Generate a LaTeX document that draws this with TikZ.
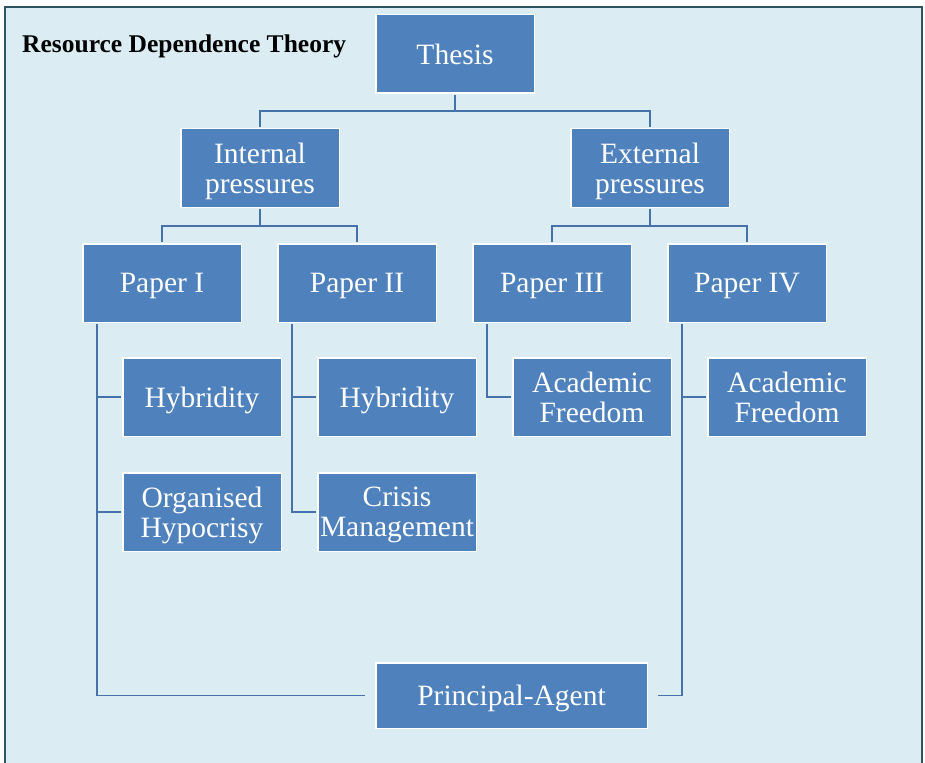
\documentclass[tikz,border=0pt]{standalone}
\usepackage{fontspec}
\setmainfont{Liberation Serif}
\usepackage{tikz}
\usepackage{xcolor}
\definecolor{boxblue}{RGB}{79,129,189}
\definecolor{linkblue}{RGB}{70,114,172}
\definecolor{paleblue}{RGB}{219,237,243}
\definecolor{framedark}{RGB}{46,84,96}

\begin{document}
\begin{tikzpicture}[x=1pt,y=-1pt,
  box/.style={draw=white,line width=1.5pt,fill=boxblue,text=white,align=center,
    minimum width=158.5pt,minimum height=78.5pt,inner sep=2pt,text depth=0pt,
    font=\fontsize{29.5}{30}\selectfont},
  link/.style={draw=linkblue,line width=1.7pt,shorten >=0.8pt,shorten <=0.8pt}]
\useasboundingbox (0,0) rectangle (925,762);
\draw[framedark,line width=2.5pt,fill=paleblue] (5,7) rectangle (922,780);
\node[anchor=base west,inner sep=0pt,font=\fontsize{25.5}{28}\selectfont\bfseries] (title) at (22,53) {Resource Dependence Theory};

\node[box] (thesis) at (455,54) {Thesis};
\node[box] (int) at (260,168) {Internal\\pressures};
\node[box] (ext) at (650,168) {External\\pressures};
\node[box] (p1) at (162,283) {Paper I};
\node[box] (p2) at (357,283) {Paper II};
\node[box] (p3) at (552,283) {Paper III};
\node[box] (p4) at (747,283) {Paper IV};
\node[box] (hyb1) at (202,397) {Hybridity};
\node[box] (org) at (202,512) {Organised\\Hypocrisy};
\node[box] (hyb2) at (397,397) {Hybridity};
\node[box] (crisis) at (397,512) {Crisis\\Management};
\node[box] (acad3) at (592,397) {Academic\\Freedom};
\node[box] (acad4) at (787,397) {Academic\\Freedom};
\node[box,minimum width=271.5pt,minimum height=65.5pt] (pa) at (511.5,695.5) {Principal-Agent};

\draw[link] (thesis.south) -- ++(0,17) -| (int.north);
\draw[link] (thesis.south) -- ++(0,17) -| (ext.north);
\draw[link] (int.south) -- ++(0,18) -| (p1.north);
\draw[link] (int.south) -- ++(0,18) -| (p2.north);
\draw[link] (ext.south) -- ++(0,18) -| (p3.north);
\draw[link] (ext.south) -- ++(0,18) -| (p4.north);

\draw[link] ([xshift=15pt]p1.south west) |- (hyb1.west);
\draw[link] ([xshift=15pt]p1.south west) |- (org.west);
\draw[link] ([xshift=15pt]p1.south west) |- ([xshift=-9pt]pa.west);
\draw[link] ([xshift=15pt]p2.south west) |- (hyb2.west);
\draw[link] ([xshift=15pt]p2.south west) |- (crisis.west);
\draw[link] ([xshift=15pt]p3.south west) |- (acad3.west);
\draw[link] ([xshift=15pt]p4.south west) |- (acad4.west);
\draw[link] ([xshift=15pt]p4.south west) |- ([xshift=9pt]pa.east);
\end{tikzpicture}
\end{document}
